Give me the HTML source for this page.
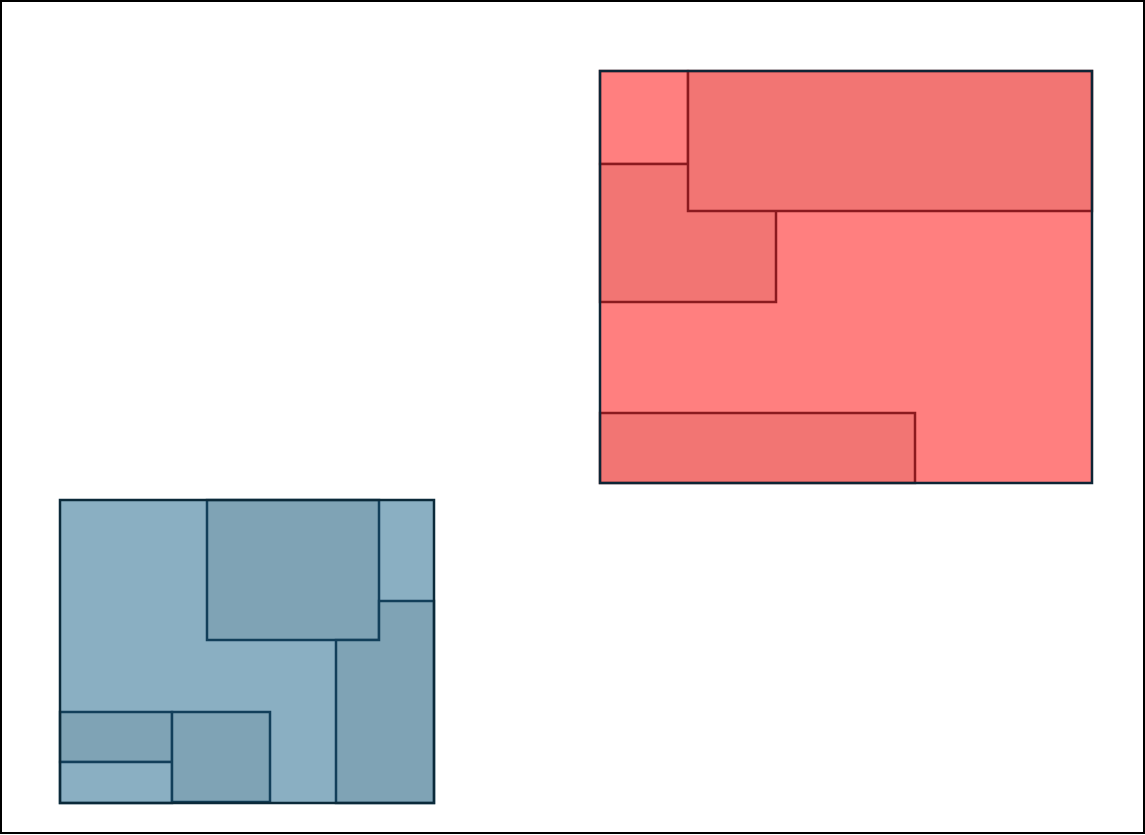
<!DOCTYPE html>
<html><head><style>
html,body{margin:0;padding:0;background:#fff;}
svg{display:block;}
</style></head><body>
<svg width="1145" height="835" viewBox="0 0 1145 835">
<rect x="1" y="1" width="1143" height="832" fill="#fff" stroke="#000" stroke-width="2"/>
<g>
<rect x="600" y="71" width="492" height="412" fill="#ff7f7f" stroke="none"/>
<rect x="600" y="71" width="88" height="93" fill="#ff7f7f" stroke="#8b1a1f" stroke-width="2.5"/>
<rect x="600" y="164" width="176" height="138" fill="#f27573" stroke="#8b1a1f" stroke-width="2.5"/>
<rect x="688" y="71" width="404" height="140" fill="#f27573" stroke="#8b1a1f" stroke-width="2.5"/>
<rect x="600" y="413" width="315" height="70" fill="#f27573" stroke="#8b1a1f" stroke-width="2.5"/>
<rect x="600" y="71" width="492" height="412" fill="none" stroke="#0d2535" stroke-width="2.5"/>
</g>
<g>
<rect x="60" y="500" width="374" height="303" fill="#8aafc2"/>
<rect x="207" y="500" width="172" height="140" fill="#7fa3b5" stroke="#123f5a" stroke-width="2.5"/>
<path d="M336 803 L336 640 L379 640 L379 601 L434 601 L434 803 Z" fill="#7fa3b5" stroke="#123f5a" stroke-width="2.5"/>
<rect x="60" y="712" width="112" height="50" fill="#7fa3b5" stroke="#123f5a" stroke-width="2.5"/>
<rect x="60" y="762" width="112" height="41" fill="#8aafc2" stroke="#123f5a" stroke-width="2.5"/>
<rect x="172" y="712" width="98" height="90" fill="#7fa3b5" stroke="#123f5a" stroke-width="2.5"/>
<rect x="60" y="500" width="374" height="303" fill="none" stroke="#0b2a3a" stroke-width="2.5"/>
</g>
</svg>
</body></html>
